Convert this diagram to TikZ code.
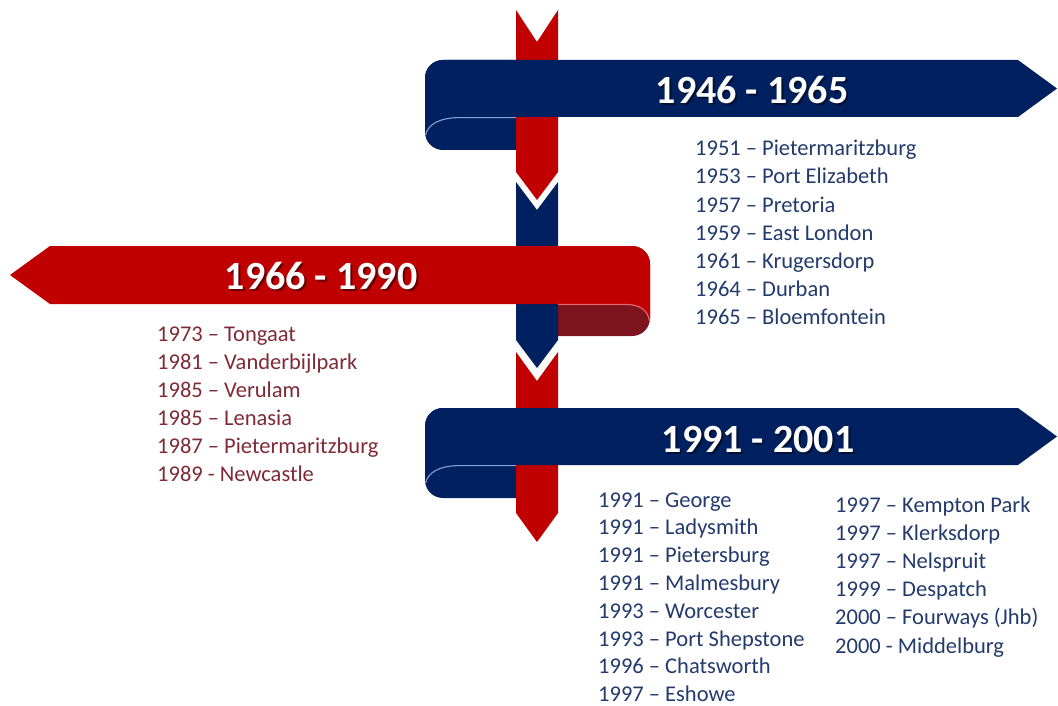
\documentclass[tikz,border=0pt]{standalone}
\usepackage{fontspec}
\setmainfont{Carlito}
\definecolor{navy}{HTML}{002060}
\definecolor{rib}{HTML}{C00000}
\definecolor{foldred}{HTML}{7B141C}
\definecolor{hlblue}{HTML}{8C9FD2}
\definecolor{hlred}{HTML}{E86A6A}
\definecolor{txtblue}{HTML}{233A6C}
\definecolor{txtred}{HTML}{7F2A36}
\begin{document}
\begin{tikzpicture}[x=1pt,y=-1pt,
  head/.style={font=\fontsize{40}{48}\selectfont\bfseries, text=white, anchor=base, inner sep=0pt},
  headshadow/.style={head, text=black, opacity=0.45},
  listb/.style={font=\fontsize{22.5}{28}\selectfont, text=txtblue, anchor=base west, inner sep=0pt},
  listr/.style={listb, text=txtred}]
\useasboundingbox (0,0) rectangle (1058,706);
% ---- folds (back) ----
\foreach \dy in {0,348}{
  \fill[navy] (540,60+\dy) -- (443,60+\dy) .. controls (433,60+\dy) and (425,68+\dy) .. (425,78+\dy)
     -- (425,132+\dy) .. controls (425,142+\dy) and (433,150+\dy) .. (443,150+\dy) -- (540,150+\dy) -- cycle;
}
\fill[foldred] (537,246) -- (632,246) .. controls (642,246) and (650,254) .. (650,264)
   -- (650,318) .. controls (650,328) and (642,336) .. (632,336) -- (537,336) -- cycle;
% ---- vertical stripe ----
\fill[rib] (516,10) -- (537,42) -- (558,10) -- (558,172) -- (537,200) -- (516,172) -- cycle;
\fill[navy] (516,182) -- (537,210) -- (558,182) -- (558,340) -- (537,368) -- (516,340) -- cycle;
\fill[rib] (516,352) -- (537,381) -- (558,352) -- (558,513) -- (537,542) -- (516,513) -- cycle;
% ---- bands ----
\foreach \dy in {0,348}{
  \fill[navy] (425,136+\dy) -- (425,78+\dy) .. controls (425,68+\dy) and (433,60+\dy) .. (443,60+\dy)
     -- (1018,60+\dy) -- (1057,88.5+\dy) -- (1018,117+\dy) -- (460,117+\dy)
     .. controls (440,117+\dy) and (427,124+\dy) .. (425,136+\dy) -- cycle;
  \draw[hlblue, line width=1.1pt] (425.6,135+\dy) .. controls (428,124+\dy) and (440,117.6+\dy) .. (460,117.6+\dy) -- (516,117.6+\dy);
}
\fill[rib] (10,275) -- (50,246) -- (632,246) .. controls (642,246) and (650,254) .. (650,264)
   -- (650,322) .. controls (648,310) and (640,304) .. (625,304) -- (50,304) -- cycle;
\draw[hlred, line width=1.1pt] (558,304.4) -- (625,304.4) .. controls (640,304.4) and (647.5,310) .. (649.6,321);
% ---- headings ----
\node[headshadow] (h1s) at (754,106) {1946 - 1965};
\node[head] (h1) at (752,104) {1946 - 1965};
\node[headshadow] (h2s) at (323,291) {1966 - 1990};
\node[head] (h2) at (321,289) {1966 - 1990};
\node[headshadow] (h3s) at (760,454) {1991 - 2001};
\node[head] (h3) at (758,452) {1991 - 2001};
% ---- lists ----
\foreach \t [count=\i] in {1951 \textendash{} Pietermaritzburg, 1953 \textendash{} Port Elizabeth,
  1957 \textendash{} Pretoria, 1959 \textendash{} East London, 1961 \textendash{} Krugersdorp,
  1964 \textendash{} Durban, 1965 \textendash{} Bloemfontein}
  \node[listb] (a\i) at (695,{156+28*(\i-1)}) {\t};
\foreach \t [count=\i] in {1973 \textendash{} Tongaat, 1981 \textendash{} Vanderbijlpark,
  1985 \textendash{} Verulam, 1985 \textendash{} Lenasia, 1987 \textendash{} Pietermaritzburg,
  1989 - Newcastle}
  \node[listr] (b\i) at (157,{341+28*(\i-1)}) {\t};
\foreach \t [count=\i] in {1991 \textendash{} George, 1991 \textendash{} Ladysmith,
  1991 \textendash{} Pietersburg, 1991 \textendash{} Malmesbury, 1993 \textendash{} Worcester,
  1993 \textendash{} Port Shepstone, 1996 \textendash{} Chatsworth, 1997 \textendash{} Eshowe}
  \node[listb] (c\i) at (598,{507+27.8*(\i-1)}) {\t};
\foreach \t [count=\i] in {1997 \textendash{} Kempton Park, 1997 \textendash{} Klerksdorp,
  1997 \textendash{} Nelspruit, 1999 \textendash{} Despatch, 2000 \textendash{} Fourways (Jhb),
  2000 - Middelburg}
  \node[listb] (d\i) at (835,{512+28.2*(\i-1)}) {\t};
\end{tikzpicture}
\end{document}
